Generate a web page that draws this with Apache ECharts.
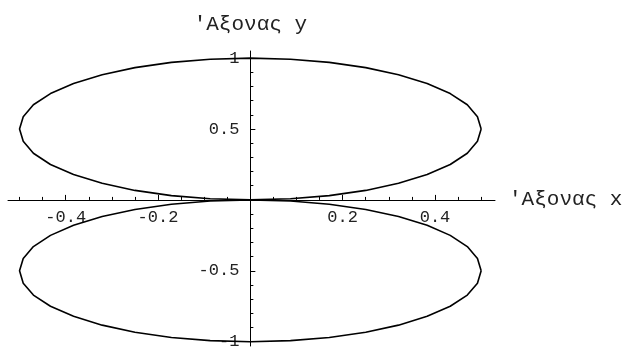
<!DOCTYPE html>
<html>
<head>
<meta charset="utf-8">
<script src="https://cdn.jsdelivr.net/npm/echarts@6/dist/echarts.min.js"></script>
<style>
  html, body { margin: 0; padding: 0; background: #fff; }
  #chart { width: 629px; height: 348px; }
</style>
</head>
<body>
<div id="chart"></div>
<script>
// Upper loop of the curve (traced counter-clockwise from the right end)
const upperX = [0.5, 0.492, 0.470, 0.433, 0.383, 0.321, 0.25, 0.171, 0.087, 0, -0.087, -0.171, -0.25, -0.321, -0.383, -0.433, -0.470, -0.492, -0.5,
                -0.492, -0.470, -0.433, -0.383, -0.321, -0.25, -0.171, -0.087, 0, 0.087, 0.171, 0.25, 0.321, 0.383, 0.433, 0.470, 0.492, 0.5];
const upperY = [0.5, 0.587, 0.671, 0.75, 0.821, 0.883, 0.933, 0.970, 0.992, 1, 0.992, 0.970, 0.933, 0.883, 0.821, 0.75, 0.671, 0.587, 0.5,
                0.413, 0.329, 0.25, 0.179, 0.117, 0.067, 0.030, 0.008, 0, 0.008, 0.030, 0.067, 0.117, 0.179, 0.25, 0.329, 0.413, 0.5];
// Lower loop, the mirror image below the x axis
const lowerX = [0.5, 0.492, 0.470, 0.433, 0.383, 0.321, 0.25, 0.171, 0.087, 0, -0.087, -0.171, -0.25, -0.321, -0.383, -0.433, -0.470, -0.492, -0.5,
                -0.492, -0.470, -0.433, -0.383, -0.321, -0.25, -0.171, -0.087, 0, 0.087, 0.171, 0.25, 0.321, 0.383, 0.433, 0.470, 0.492, 0.5];
const lowerY = [-0.5, -0.587, -0.671, -0.75, -0.821, -0.883, -0.933, -0.970, -0.992, -1, -0.992, -0.970, -0.933, -0.883, -0.821, -0.75, -0.671, -0.587, -0.5,
                -0.413, -0.329, -0.25, -0.179, -0.117, -0.067, -0.030, -0.008, 0, -0.008, -0.030, -0.067, -0.117, -0.179, -0.25, -0.329, -0.413, -0.5];

// Tick positions
const xMajorTicks = [-0.4, -0.2, 0.2, 0.4];
const xMinorTicks = [-0.5, -0.45, -0.35, -0.3, -0.25, -0.15, -0.1, -0.05, 0.05, 0.1, 0.15, 0.25, 0.3, 0.35, 0.45, 0.5];
const yMajorTicks = [-1, -0.5, 0.5, 1];
const yMinorTicks = [-0.9, -0.8, -0.7, -0.6, -0.4, -0.3, -0.2, -0.1, 0.1, 0.2, 0.3, 0.4, 0.6, 0.7, 0.8, 0.9];

const xName = "'Αξονας x";
const yName = "'Αξονας y";

const FONT = '"Liberation Mono", "DejaVu Sans Mono", monospace';
const INK = '#000';

// Plot area and axis ranges
const GRID = { left: 8, top: 51, width: 487, height: 295 };
const X_MIN = -0.525, X_MAX = 0.53;
const Y_MIN = -1.03, Y_MAX = 1.05;

// The axes cross at the origin: shift each one from the grid edge to zero
const xAxisShift = -(GRID.height * (0 - Y_MIN) / (Y_MAX - Y_MIN));
const yAxisShift = -(GRID.width * (0 - X_MIN) / (X_MAX - X_MIN));

const zip = (xs, ys) => xs.map((x, i) => [x, ys[i]]);

const chart = echarts.init(document.getElementById('chart'));
chart.setOption({
  animation: false,
  backgroundColor: '#fff',
  grid: Object.assign({ containLabel: false, outerBoundsMode: 'none' }, GRID),
  xAxis: [
    {
      type: 'value', min: X_MIN, max: X_MAX, position: 'bottom', offset: xAxisShift,
      axisLine: { show: true, onZero: false, lineStyle: { color: INK, width: 1 } },
      axisTick: { show: true, inside: true, length: 5, customValues: xMajorTicks, lineStyle: { color: INK } },
      axisLabel: { show: true, customValues: xMajorTicks, margin: 9, color: '#222',
                   fontFamily: FONT, fontSize: 17, formatter: v => String(v) },
      splitLine: { show: false },
      name: xName, nameLocation: 'end', nameGap: 14,
      nameTextStyle: { fontFamily: FONT, fontSize: 21, color: '#222', verticalAlign: 'middle', padding: [0, 0, 6, 0] }
    },
    {
      type: 'value', min: X_MIN, max: X_MAX, position: 'bottom', offset: xAxisShift,
      axisLine: { show: false, onZero: false },
      axisTick: { show: true, inside: true, length: 3, customValues: xMinorTicks, lineStyle: { color: INK } },
      axisLabel: { show: false },
      splitLine: { show: false }
    }
  ],
  yAxis: [
    {
      type: 'value', min: Y_MIN, max: Y_MAX, position: 'left', offset: yAxisShift,
      axisLine: { show: true, onZero: false, lineStyle: { color: INK, width: 1 } },
      axisTick: { show: true, inside: true, length: 5, customValues: yMajorTicks, lineStyle: { color: INK } },
      axisLabel: { show: true, customValues: yMajorTicks, margin: 11, color: '#222',
                   fontFamily: FONT, fontSize: 17, formatter: v => String(v) },
      splitLine: { show: false },
      name: yName, nameLocation: 'end', nameGap: 16,
      nameTextStyle: { fontFamily: FONT, fontSize: 21, color: '#222', align: 'center' }
    },
    {
      type: 'value', min: Y_MIN, max: Y_MAX, position: 'left', offset: yAxisShift,
      axisLine: { show: false, onZero: false },
      axisTick: { show: true, inside: true, length: 3, customValues: yMinorTicks, lineStyle: { color: INK } },
      axisLabel: { show: false },
      splitLine: { show: false }
    }
  ],
  series: [
    {
      type: 'line', xAxisIndex: 0, yAxisIndex: 0, data: zip(upperX, upperY),
      showSymbol: false, smooth: false, clip: false,
      lineStyle: { color: INK, width: 1.6 }
    },
    {
      type: 'line', xAxisIndex: 0, yAxisIndex: 0, data: zip(lowerX, lowerY),
      showSymbol: false, smooth: false, clip: false,
      lineStyle: { color: INK, width: 1.6 }
    }
  ]
});
</script>
</body>
</html>
